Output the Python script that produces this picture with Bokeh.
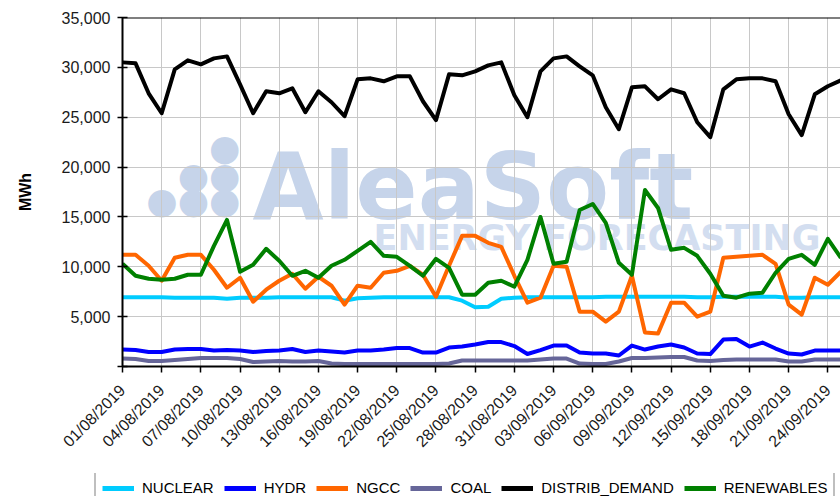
import pandas as pd
from math import pi
from bokeh.plotting import figure
from bokeh.models import (ColumnDataSource, FixedTicker, DatetimeTickFormatter, NumeralTickFormatter,
                          Legend, LegendItem, Label, Span, Range1d)
from bokeh.embed import file_html
from bokeh.resources import INLINE

# ---------------- data (MWh, daily) ----------------
dates = pd.date_range("2019-08-01", periods=56, freq="D")

nuclear = [6950, 6950, 6950, 6950, 6900, 6900, 6900, 6900, 6800, 6900,
           6900, 6900, 6950, 6950, 6950, 6950, 6950, 6600, 6850, 6900,
           6950, 6950, 6950, 6950, 6950, 6950, 6600, 5950, 6000, 6800,
           6900, 6950, 6950, 6950, 6950, 6950, 6950, 7000, 7000, 7000,
           7000, 7000, 7000, 7000, 6950, 6950, 7000, 7000, 7000, 7000,
           7000, 6900, 6900, 6950, 6950, 6950]

hydr = [1700, 1650, 1450, 1450, 1700, 1750, 1750, 1600, 1650, 1600,
        1450, 1550, 1600, 1750, 1450, 1600, 1500, 1400, 1600, 1600,
        1700, 1850, 1850, 1400, 1400, 1900, 2000, 2200, 2450, 2450,
        2050, 1250, 1650, 2100, 2100, 1400, 1300, 1300, 1100, 2100,
        1700, 2000, 2200, 1900, 1300, 1250, 2700, 2750, 2000, 2400,
        1800, 1300, 1200, 1600, 1600, 1600]

ngcc = [11200, 11200, 10100, 8600, 10900, 11200, 11200, 9700, 7900, 8900,
        6500, 7700, 8600, 9300, 7800, 9000, 8100, 6200, 8100, 7900,
        9400, 9600, 10100, 9200, 7000, 10100, 13100, 13100, 12400, 12000,
        9100, 6400, 6900, 10100, 10000, 5500, 5500, 4500, 5500, 9100,
        3400, 3300, 6400, 6400, 5000, 5500, 10900, 11000, 11100, 11200,
        10300, 6200, 5200, 8900, 8200, 9500]

coal = [800, 750, 550, 550, 650, 750, 850, 850, 850, 750,
        450, 500, 550, 500, 500, 550, 300, 250, 250, 250,
        250, 250, 250, 250, 250, 300, 600, 600, 600, 600,
        600, 600, 700, 800, 800, 300, 250, 250, 500, 850,
        850, 900, 950, 950, 600, 550, 650, 700, 700, 700,
        700, 500, 500, 700, 700, 700]

distrib_demand = [30500, 30400, 27400, 25400, 29800, 30700, 30300, 30900, 31100, 28300,
                  25400, 27600, 27400, 27900, 25500, 27600, 26500, 25100, 28800, 28900,
                  28600, 29100, 29100, 26600, 24700, 29300, 29200, 29600, 30200, 30500,
                  27200, 25000, 29600, 30900, 31100, 30100, 29200, 26000, 23800, 28000,
                  28100, 26800, 27800, 27400, 24500, 23000, 27800, 28800, 28900, 28900,
                  28600, 25300, 23200, 27300, 28100, 28700]

renewables = [10300, 9100, 8800, 8700, 8800, 9200, 9200, 12100, 14700, 9500,
              10200, 11800, 10600, 9100, 9600, 8900, 10100, 10700, 11600, 12500,
              11100, 11000, 10100, 9100, 10800, 9900, 7200, 7200, 8400, 8600,
              8000, 10700, 15000, 10300, 10500, 15700, 16300, 14400, 10400, 9200,
              17700, 15900, 11700, 11900, 11100, 9300, 7100, 6900, 7300, 7400,
              9400, 10800, 11200, 10200, 12800, 10900]

series_names = ["NUCLEAR", "HYDR", "NGCC", "COAL", "DISTRIB_DEMAND", "RENEWABLES"]
series_colors = ["#00ccff", "#0000ff", "#ff6600", "#666699", "#000000", "#008000"]
y_ticks = [0, 5000, 10000, 15000, 20000, 25000, 30000, 35000]
x_tick_dates = dates[::3]

# ---------------- main figure ----------------
source = ColumnDataSource(dict(date=dates, NUCLEAR=nuclear, HYDR=hydr, NGCC=ngcc, COAL=coal,
                               DISTRIB_DEMAND=distrib_demand, RENEWABLES=renewables))

x_start = dates[0]
x_end = dates[0] + pd.Timedelta(days=54.97)

p = figure(width=840, height=473, x_axis_type="datetime", output_backend="svg",
           toolbar_location=None, x_range=Range1d(x_start, x_end), y_range=Range1d(0, 35000),
           min_border_left=122, min_border_right=0, min_border_top=17, min_border_bottom=107,
           background_fill_color="white", border_fill_color="white")
p.outline_line_color = None

FONT = "Liberation Sans"
WM = "DejaVu Sans"

# watermark (drawn beneath the grid)
wm_color = "#c6d4ea"
p.add_layout(Label(x=130, y=179, x_units="screen", y_units="screen", text="AleaSoft",
                   text_font=WM, text_font_style="bold", text_font_size="92px",
                   text_color=wm_color, text_baseline="alphabetic", level="image"))
p.add_layout(Label(x=251, y=129, x_units="screen", y_units="screen", text="ENERGY FORECASTING",
                   text_font=WM, text_font_style="bold", text_font_size="35px",
                   text_color="#d3def0", text_baseline="alphabetic", level="image"))
for row_text, row_y in [("\u25cf", 219), ("\u25cf\u25cf", 191), ("\u25cf\u25cf\u25cf", 166)]:
    p.add_layout(Label(x=118, y=row_y, x_units="screen", y_units="screen", text=row_text,
                       text_font=WM, text_font_size="36px", text_color=wm_color,
                       text_align="right", text_baseline="middle", level="image"))

renderers = []
for name, color in zip(series_names, series_colors):
    r = p.line("date", name, source=source, line_color=color, line_width=4, line_join="round")
    renderers.append(r)

# top border line
p.add_layout(Span(location=y_ticks[-1], dimension="width", line_color="black", line_width=2))

# grid
for g in (p.xgrid, p.ygrid):
    g.grid_line_color = "#c8c8c8"
    g.grid_line_width = 1

# x axis
xa = p.xaxis[0]
xa.ticker = FixedTicker(ticks=[d.timestamp() * 1000 for d in x_tick_dates])
fmt = "%d/%m/%Y"
xa.formatter = DatetimeTickFormatter(days=fmt, months=fmt, hours=fmt, years=fmt)
xa.major_label_orientation = pi / 4
xa.major_label_text_font = FONT
xa.major_label_text_font_size = "16px"
xa.major_label_text_color = "#1a1a1a"
xa.major_label_standoff = 15
xa.axis_line_color = "black"
xa.axis_line_width = 2
xa.major_tick_line_color = "black"
xa.major_tick_line_width = 1.5
xa.major_tick_in = 0
xa.major_tick_out = 6
xa.minor_tick_line_color = None

# y axis
ya = p.yaxis[0]
ya.ticker = FixedTicker(ticks=y_ticks)
ya.formatter = NumeralTickFormatter(format="0,0")
ya.major_label_overrides = {0: ""}
ya.major_label_text_font = FONT
ya.major_label_text_font_size = "16px"
ya.major_label_text_color = "#1a1a1a"
ya.major_label_standoff = 7
ya.axis_line_color = "black"
ya.axis_line_width = 2
ya.major_tick_line_color = "black"
ya.major_tick_line_width = 1.5
ya.major_tick_in = 5
ya.major_tick_out = 5
ya.minor_tick_line_color = None
ya.axis_label = "MWh"
ya.axis_label_text_font = FONT
ya.axis_label_text_font_style = "bold"
ya.axis_label_text_font_size = "16px"
ya.axis_label_text_color = "black"
ya.axis_label_standoff = 25

# ---------------- legend strip (separate small figure, lines kept out of view) ----------------
pl = figure(width=840, height=30, output_backend="svg", toolbar_location=None,
            x_axis_location=None, y_axis_location=None, min_border=0,
            x_range=Range1d(x_start, x_end), y_range=Range1d(-2, -1),
            background_fill_color="white", border_fill_color="white")
pl.outline_line_color = None
pl.grid.visible = False
leg_renderers = []
for name, color in zip(series_names, series_colors):
    leg_renderers.append(pl.line("date", name, source=source, line_color=color, line_width=5))

legend = Legend(items=[LegendItem(label=n, renderers=[r]) for n, r in zip(series_names, leg_renderers)],
                orientation="horizontal", location=(94, -1), padding=6, spacing=10,
                label_standoff=8, glyph_width=32, glyph_height=16, label_height=16,
                label_text_font=FONT, label_text_font_size="15px", label_text_color="black",
                border_line_color="#7f7f7f", border_line_width=2, background_fill_color="white",
                background_fill_alpha=1, margin=0)
pl.add_layout(legend, "center")

open("out.html", "w").write(file_html([p, pl], INLINE))
